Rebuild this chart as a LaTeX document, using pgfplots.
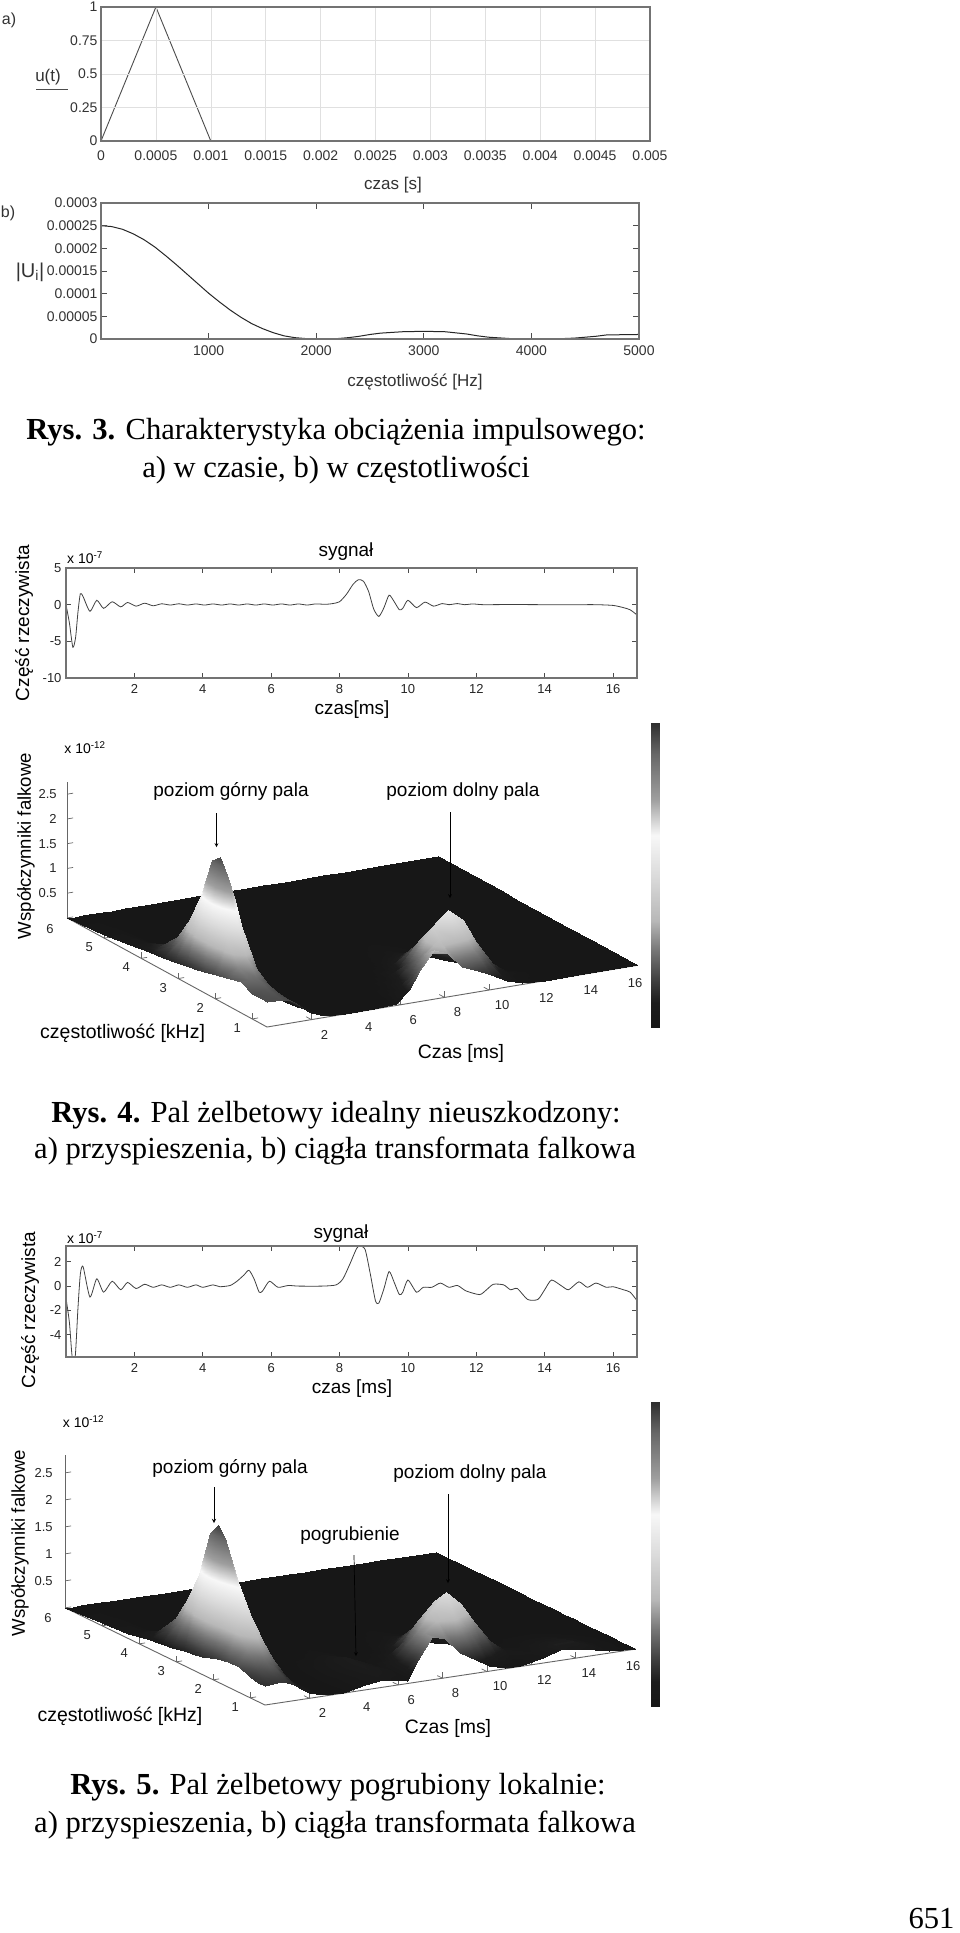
\documentclass[border=0pt]{standalone}
\usepackage{fontspec}
\setmainfont{Liberation Serif}
\newfontfamily\lsans{Liberation Sans}
\usepackage{pgfplots}
\pgfplotsset{compat=1.18}
\definecolor{boxc}{gray}{0.45}
\newcommand\fs[1]{\lsans\fontsize{#1}{#1}\selectfont}
\newcommand\capf{\fontsize{30.6}{30.6}\selectfont}
\pgfplotsset{
  colormap={jetgray}{gray(0pt)=(0.09) gray(8pt)=(0.11) gray(15pt)=(0.24) gray(25pt)=(0.46) gray(35pt)=(0.72) gray(50pt)=(0.86) gray(63pt)=(0.97) gray(75pt)=(0.62) gray(90pt)=(0.4) gray(100pt)=(0.18)},
  flat/.style={scale only axis, anchor=south west, clip=true,
    axis line style={draw=boxc,line width=1.3pt},
    tick style={draw=black!70,line width=0.8pt},
    tick label style={font=\fs{14},text=black!80},
    scaled ticks=false, tick align=inside, major tick length=6pt,
    axis on top},
  sig/.style={flat, tick label style={font=\fs{13},text=black!85}, xmin=0,xmax=16.7,
    xtick={2,4,6,8,10,12,14,16}, xticklabels={2,4,6,8,10,12,14,16},
    major tick length=5pt, xticklabel style={yshift=-3pt}, yticklabel style={xshift=-1pt}},
  surf3/.style={clip=false, anchor=origin, xmin=0,xmax=16.7,ymin=0.6,ymax=6,zmin=0,
    axis x line*=bottom, axis y line*=left, axis z line*=left,
    axis line style={draw=black!60,line width=0.9pt,-},
    tick style={draw=black!60,line width=0.7pt}, major tick length=6pt,
    tick label style={font=\fs{13},text=black!85},
    xtick={2,4,6,8,10,12,14,16}, xticklabels={2,4,6,8,10,12,14,16},
    ytick={1,2,3,4,5,6}, yticklabels={1,2,3,4,5,{}},
    ztick={0.5,1,1.5,2,2.5}, zticklabels={0.5,1,1.5,2,2.5},
    xticklabel style={anchor=center,xshift=13pt,yshift=-15pt},
    yticklabel style={anchor=center,xshift=-15pt,yshift=-9pt},
    colormap name=jetgray, point meta min=0, point meta max=2.8},
  cbar/.style={scale only axis, anchor=south west, hide axis, view={0}{90}, xmin=0,xmax=1,ymin=0,ymax=2.8,
    colormap name=jetgray, point meta min=0, point meta max=2.8, enlargelimits=false},
}
\begin{document}
\begin{tikzpicture}
\path[use as bounding box] (0pt,0pt) rectangle (960pt,-1933pt);
\fill[white] (0pt,0pt) rectangle (960pt,-1933pt);

% ---------- Rys. 3 a
\begin{axis}[flat, at={(101pt,-141pt)}, width=549pt, height=134pt,
  xmin=0,xmax=0.005,ymin=0,ymax=1,
  xtick={0,0.0005,0.001,0.0015,0.002,0.0025,0.003,0.0035,0.004,0.0045,0.005},
  xticklabels={0,0.0005,0.001,0.0015,0.002,0.0025,0.003,0.0035,0.004,0.0045,0.005},
  ytick={0,0.25,0.5,0.75,1}, yticklabels={0,0.25,0.5,0.75,1},
  major tick length=0pt, grid=major, grid style={draw=black!12,line width=0.6pt},
  xticklabel style={yshift=-6pt}]
\addplot[black!70,line width=0.9pt] coordinates {(0,0)(0.0005,1)(0.001,0)(0.005,0)};
\end{axis}
\node[font=\fs{17},text=black!80] at (393pt,-185pt) {czas [s]};
\node[font=\fs{17},text=black!80] at (48pt,-77pt) {u(t)};
\draw[black!70,line width=0.9pt] (36pt,-89pt) -- (68pt,-89pt);
\node[font=\fs{16},text=black!80] at (9pt,-20pt) {a)};

% ---------- Rys. 3 b
\begin{axis}[flat, at={(101pt,-339pt)}, width=538pt, height=136pt,
  xmin=0,xmax=5000,ymin=0,ymax=0.0003,
  xtick={1000,2000,3000,4000,5000}, xticklabels={1000,2000,3000,4000,5000},
  ytick={0,0.00005,0.0001,0.00015,0.0002,0.00025,0.0003},
  yticklabels={0,0.00005,0.0001,0.00015,0.0002,0.00025,0.0003},
  xticklabel style={yshift=-3pt}]
\addplot[black!85,line width=1pt] coordinates {(0,0.00025)(100,0.000248)(200,0.000242)(300,0.000232)(400,0.000219)(500,0.000203)(600,0.000184)(700,0.000164)(800,0.000143)(900,0.000122)(1000,0.000101)(1100,0.000082)(1200,0.000064)(1300,0.000048)(1400,0.000034)(1500,0.000023)(1600,0.000014)(1700,0.000007)(1800,0.000003)(1900,0.000001)(2000,0)(2200,0.000001)(2300,0.000003)(2400,0.000006)(2500,0.00001)(2600,0.000013)(2800,0.000016)(3000,0.000017)(3200,0.000016)(3400,0.000011)(3500,0.000007)(3600,0.000004)(3800,0.000001)(4000,0)(4200,0)(4300,0.000001)(4400,0.000002)(4500,0.000004)(4600,0.000006)(4700,0.000009)(5000,0.00001)};
\end{axis}
\node[font=\fs{17},text=black!80] at (415pt,-382pt) {częstotliwość [Hz]};
\node[font=\fs{20},text=black!80] at (30pt,-272pt) {|U\textsubscript{i}|};
\node[font=\fs{16},text=black!80] at (8pt,-213pt) {b)};

\node[font=\capf] at (336pt,-432pt) {\textbf{Rys. 3.} Charakterystyka obciążenia impulsowego:};
\node[font=\capf] at (336pt,-470pt) {a) w czasie, b) w częstotliwości};

% ---------- Rys. 4 signal
\begin{axis}[sig, at={(66pt,-678pt)}, width=571pt, height=110pt,
  ymin=-10,ymax=5, ytick={-10,-5,0,5}, yticklabels={-10,-5,0,5}]
\addplot[black!75,line width=0.8pt,smooth,tension=0.4] coordinates {(0,0)(0.1,-2.5)(0.2,-5.8)(0.28,-4.5)(0.35,-1)(0.42,1.5)(0.5,1.1)(0.7,-0.9)(0.9,0.6)(1.1,-0.5)(1.35,0.4)(1.6,-0.3)(1.8,0.3)(2.05,-0.2)(2.3,0.2)(2.55,-0.15)(2.8,0.12)(3.05,-0.05)(3.3,0.12)(3.55,-0.05)(3.8,0.1)(4.05,-0.05)(4.3,0.1)(4.55,-0.05)(4.8,0.1)(5.05,-0.05)(5.3,0.1)(5.55,-0.05)(5.8,0.1)(6.05,-0.05)(6.3,0.1)(6.55,-0.05)(6.8,0.1)(7.05,-0.05)(7.3,0.1)(7.6,0.05)(7.8,0.15)(8,0.4)(8.2,1.4)(8.4,2.8)(8.55,3.4)(8.7,3.2)(8.85,1.8)(9,-0.6)(9.15,-1.6)(9.3,-0.4)(9.45,1.3)(9.6,0.4)(9.75,-0.7)(9.85,-0.5)(10,0.6)(10.25,-0.4)(10.5,0.35)(10.75,-0.2)(11,0.15)(11.2,0)(11.45,0.15)(11.65,0)(11.9,0.1)(12.2,0)(13,0.02)(14,0)(15,0)(15.5,0)(16,-0.1)(16.3,-0.4)(16.5,-0.7)(16.7,-1.4)};
\end{axis}
\node[font=\fs{19}] at (346pt,-552pt) {sygnał};
\node[font=\fs{19}] at (352pt,-710pt) {czas[ms]};
\node[font=\fs{19},rotate=90] at (24pt,-623pt) {Część rzeczywista};
\node[font=\fs{14}] at (85pt,-558pt) {x 10\textsuperscript{-7}};

% ---------- Rys. 4 surface
\begin{axis}[surf3, at={(267pt,-1027pt)}, x={(22.2pt,3.7pt)}, y={(-37pt,20.2pt)}, z={(0pt,49.5pt)}, zmax=2.74,
  zticklabel style={anchor=east,xshift=-7pt}]
\addplot3[surf,shader=interp,z buffer=none,mesh/ordering=x varies,mesh/cols=23,point meta=z] coordinates {
(16.7,6,0)(14,6,0)(12.5,6,0)(11.5,6,0)(10.8,6,0)(10.1,6,0)(9.5,6,0)(8.8,6,0)(8.1,6,0)(7.5,6,0)(6.9,6,0)(6.4,6,0)(5.8,6,0)(4.8,6,0)(3.5,6,0)(2.6,6,0)(2,6,0)(1.6,6,0)(1.3,6,0)(1,6,0)(0.7,6,0)(0.35,6,0)(0,6,0)
(16.7,5,0)(14,5,0)(12.5,5,0)(11.5,5,0)(10.8,5,0)(10.1,5,0)(9.5,5,0)(8.8,5,0)(8.1,5,0)(7.5,5,0)(6.9,5,0)(6.4,5,0)(5.8,5,0)(4.8,5,0)(3.5,5,0)(2.6,5,0)(2,5,0)(1.6,5,0)(1.3,5,0.006)(1,5,0.034)(0.7,5,0.06)(0.35,5,0.06)(0,5,0.06)
(16.7,4.3,0)(14,4.3,0)(12.5,4.3,0)(11.5,4.3,0)(10.8,4.3,0)(10.1,4.3,0)(9.5,4.3,0)(8.8,4.3,0)(8.1,4.3,0)(7.5,4.3,0)(6.9,4.3,0)(6.4,4.3,0)(5.8,4.3,0)(4.8,4.3,0)(3.5,4.3,0)(2.6,4.3,0)(2,4.3,0)(1.6,4.3,0.003)(1.3,4.3,0.026)(1,4.3,0.096)(0.7,4.3,0.15)(0.35,4.3,0.145)(0,4.3,0.14)
(16.7,3.8,0)(14,3.8,0)(12.5,3.8,0)(11.5,3.8,0)(10.8,3.8,0)(10.1,3.8,0)(9.5,3.8,0)(8.8,3.8,0)(8.1,3.8,0)(7.5,3.8,0)(6.9,3.8,0)(6.4,3.8,0)(5.8,3.8,0)(4.8,3.8,0)(3.5,3.8,0)(2.6,3.8,0)(2,3.8,0)(1.6,3.8,0.012)(1.3,3.8,0.076)(1,3.8,0.22)(0.7,3.8,0.32)(0.35,3.8,0.27)(0,3.8,0.21)
(16.7,3.4,0)(14,3.4,0)(12.5,3.4,0)(11.5,3.4,0)(10.8,3.4,0)(10.1,3.4,0)(9.5,3.4,0)(8.8,3.4,0)(8.1,3.4,0)(7.5,3.4,0)(6.9,3.4,0)(6.4,3.4,0)(5.8,3.4,0)(4.8,3.4,0)(3.5,3.4,0)(2.6,3.4,0)(2,3.4,0)(1.6,3.4,0.03)(1.3,3.4,0.17)(1,3.4,0.47)(0.7,3.4,0.65)(0.35,3.4,0.47)(0,3.4,0.26)
(16.7,3.1,0)(14,3.1,0)(12.5,3.1,0)(11.5,3.1,0)(10.8,3.1,0)(10.1,3.1,0)(9.5,3.1,0.01)(8.8,3.1,0.02)(8.1,3.1,0.01)(7.5,3.1,0)(6.9,3.1,0)(6.4,3.1,0)(5.8,3.1,0)(4.8,3.1,0)(3.5,3.1,0)(2.6,3.1,0)(2,3.1,0.004)(1.6,3.1,0.076)(1.3,3.1,0.33)(1,3.1,0.82)(0.7,3.1,1.1)(0.35,3.1,0.74)(0,3.1,0.3)
(16.7,2.8,0)(14,2.8,0)(12.5,2.8,0)(11.5,2.8,0)(10.8,2.8,0)(10.1,2.8,0)(9.5,2.8,0.02)(8.8,2.8,0.04)(8.1,2.8,0.02)(7.5,2.8,0)(6.9,2.8,0)(6.4,2.8,0)(5.8,2.8,0)(4.8,2.8,0)(3.5,2.8,0)(2.6,2.8,0)(2,2.8,0.012)(1.6,2.8,0.155)(1.3,2.8,0.59)(1,2.8,1.32)(0.7,2.8,1.72)(0.35,2.8,1.1)(0,2.8,0.34)
(16.7,2.5,0)(14,2.5,0)(12.5,2.5,0)(11.5,2.5,0)(10.8,2.5,0)(10.1,2.5,0)(9.5,2.5,0.04)(8.8,2.5,0.09)(8.1,2.5,0.04)(7.5,2.5,0)(6.9,2.5,0)(6.4,2.5,0)(5.8,2.5,0)(4.8,2.5,0)(3.5,2.5,0)(2.6,2.5,0)(2,2.5,0.02)(1.6,2.5,0.25)(1.3,2.5,0.9)(1,2.5,1.98)(0.7,2.5,2.55)(0.35,2.5,1.58)(0,2.5,0.38)
(16.7,2.3,0)(14,2.3,0)(12.5,2.3,0)(11.5,2.3,0)(10.8,2.3,0)(10.1,2.3,0.01)(9.5,2.3,0.08)(8.8,2.3,0.15)(8.1,2.3,0.08)(7.5,2.3,0.01)(6.9,2.3,0)(6.4,2.3,0)(5.8,2.3,0)(4.8,2.3,0)(3.5,2.3,0)(2.6,2.3,0)(2,2.3,0.03)(1.6,2.3,0.32)(1.3,2.3,1.04)(1,2.3,2.09)(0.7,2.3,2.68)(0.35,2.3,1.65)(0,2.3,0.42)
(16.7,2.1,0)(14,2.1,0)(12.5,2.1,0)(11.5,2.1,0)(10.8,2.1,0)(10.1,2.1,0.03)(9.5,2.1,0.14)(8.8,2.1,0.25)(8.1,2.1,0.14)(7.5,2.1,0.03)(6.9,2.1,0)(6.4,2.1,0)(5.8,2.1,0)(4.8,2.1,0)(3.5,2.1,0)(2.6,2.1,0)(2,2.1,0.04)(1.6,2.1,0.33)(1.3,2.1,1)(1,2.1,1.94)(0.7,2.1,2.4)(0.35,2.1,1.5)(0,2.1,0.45)
(16.7,1.9,0)(14,1.9,0)(12.5,1.9,0)(11.5,1.9,0)(10.8,1.9,0.01)(10.1,1.9,0.07)(9.5,1.9,0.25)(8.8,1.9,0.4)(8.1,1.9,0.25)(7.5,1.9,0.07)(6.9,1.9,0.01)(6.4,1.9,0)(5.8,1.9,0)(4.8,1.9,0)(3.5,1.9,0)(2.6,1.9,0)(2,1.9,0.05)(1.6,1.9,0.31)(1.3,1.9,0.82)(1,1.9,1.46)(0.7,1.9,1.78)(0.35,1.9,1.2)(0,1.9,0.5)
(16.7,1.6,0)(14,1.6,0)(12.5,1.6,0)(11.5,1.6,0.003)(10.8,1.6,0.035)(10.1,1.6,0.2)(9.5,1.6,0.52)(8.8,1.6,0.75)(8.1,1.6,0.52)(7.5,1.6,0.2)(6.9,1.6,0.04)(6.4,1.6,0.01)(5.8,1.6,0)(4.8,1.6,0)(3.5,1.6,0)(2.6,1.6,0.003)(2,1.6,0.06)(1.6,1.6,0.25)(1.3,1.6,0.53)(1,1.6,0.82)(0.7,1.6,0.95)(0.35,1.6,0.78)(0,1.6,0.56)
(16.7,1.3,0)(14,1.3,0)(12.5,1.3,0)(11.5,1.3,0.03)(10.8,1.3,0.15)(10.1,1.3,0.5)(9.5,1.3,0.9)(8.8,1.3,1.15)(8.1,1.3,0.9)(7.5,1.3,0.45)(6.9,1.3,0.13)(6.4,1.3,0.03)(5.8,1.3,0)(4.8,1.3,0)(3.5,1.3,0)(2.6,1.3,0.008)(2,1.3,0.08)(1.6,1.3,0.24)(1.3,1.3,0.42)(1,1.3,0.58)(0.7,1.3,0.65)(0.35,1.3,0.64)(0,1.3,0.62)
(16.7,1,0)(14,1,0)(12.5,1,0.007)(11.5,1,0.09)(10.8,1,0.33)(10.1,1,0.8)(9.5,1,1.28)(8.8,1,1.55)(8.1,1,1.23)(7.5,1,0.69)(6.9,1,0.28)(6.4,1,0.1)(5.8,1,0.02)(4.8,1,0)(3.5,1,0)(2.6,1,0.015)(2,1,0.1)(1.6,1,0.245)(1.3,1,0.38)(1,1,0.5)(0.7,1,0.55)(0.35,1,0.53)(0,1,0.5)
(16.7,0.8,0)(14,0.8,0)(12.5,0.8,0.003)(11.5,0.8,0.05)(10.8,0.8,0.22)(10.1,0.8,0.55)(9.5,0.8,0.85)(8.8,0.8,1.05)(8.1,0.8,1.1)(7.5,0.8,0.85)(6.9,0.8,0.45)(6.4,0.8,0.18)(5.8,0.8,0.025)(4.8,0.8,0)(3.5,0.8,0.001)(2.6,0.8,0.026)(2,0.8,0.13)(1.6,0.8,0.27)(1.3,0.8,0.39)(1,0.8,0.48)(0.7,0.8,0.52)(0.35,0.8,0.51)(0,0.8,0.5)
(16.7,0.6,0)(14,0.6,0)(12.5,0.6,0)(11.5,0.6,0.02)(10.8,0.6,0.12)(10.1,0.6,0.3)(9.5,0.6,0.42)(8.8,0.6,0.55)(8.1,0.6,0.89)(7.5,0.6,1)(6.9,0.6,0.64)(6.4,0.6,0.26)(5.8,0.6,0.03)(4.8,0.6,0)(3.5,0.6,0.002)(2.6,0.6,0.033)(2,0.6,0.14)(1.6,0.6,0.27)(1.3,0.6,0.38)(1,0.6,0.47)(0.7,0.6,0.5)(0.35,0.6,0.5)(0,0.6,0.5)
};
\end{axis}
\begin{axis}[cbar, at={(651pt,-1027pt)}, width=8pt, height=304pt]
\addplot3[surf,shader=interp,mesh/cols=2,point meta=y] coordinates {(0,0,0)(1,0,0)(0,0.7,0)(1,0.7,0)(0,1.4,0)(1,1.4,0)(0,2.1,0)(1,2.1,0)(0,2.8,0)(1,2.8,0)};
\end{axis}
\node[font=\fs{13},text=black!85] at (50pt,-929pt) {6};
\node[font=\fs{19}] at (231pt,-791pt) {poziom górny pala};
\node[font=\fs{19}] at (463pt,-792pt) {poziom dolny pala};
\draw[-stealth,black,line width=0.7pt] (216.5pt,-813pt) -- (216.5pt,-847pt);
\draw[-stealth,black,line width=0.7pt] (450pt,-812pt) -- (450pt,-898pt);
\node[font=\fs{14}] at (85pt,-748pt) {x 10\textsuperscript{-12}};
\node[font=\fs{18.6},rotate=90] at (26pt,-846pt) {Współczynniki falkowe};
\node[font=\fs{19.5}] at (122.6pt,-1033pt) {częstotliwość [kHz]};
\node[font=\fs{19.4}] at (461pt,-1053pt) {Czas [ms]};

\node[font=\capf] at (336pt,-1115pt) {\textbf{Rys. 4.} Pal żelbetowy idealny nieuszkodzony:};
\node[font=\capf] at (335pt,-1151pt) {a) przyspieszenia, b) ciągła transformata falkowa};

% ---------- Rys. 5 signal
\begin{axis}[sig, at={(66pt,-1357pt)}, width=571pt, height=111pt,
  ymin=-5.84,ymax=3.3, ytick={-4,-2,0,2}, yticklabels={-4,-2,0,2}]
\addplot[black!75,line width=0.8pt,smooth,tension=0.4] coordinates {(0,-1)(0.1,-3)(0.18,-5.8)(0.27,-5.8)(0.35,-1.8)(0.42,1)(0.5,1.6)(0.7,-0.9)(0.9,0.6)(1.1,-0.5)(1.35,0.4)(1.6,-0.3)(1.8,0.3)(2.05,-0.2)(2.3,0.15)(2.55,-0.1)(2.8,0.1)(3.05,-0.1)(3.3,0.1)(3.55,-0.1)(3.8,0.1)(4,-0.1)(4.3,0.1)(4.5,-0.05)(4.8,0.05)(5,0.4)(5.2,0.9)(5.35,1.3)(5.5,0.6)(5.65,-0.5)(5.75,-0.4)(5.95,0.4)(6.2,-0.1)(6.5,0.05)(6.8,0)(7.5,0)(7.9,0.1)(8.1,0.6)(8.3,1.8)(8.5,3.1)(8.6,3.3)(8.75,3)(8.9,1)(9.05,-1.2)(9.15,-1.4)(9.3,-0.2)(9.45,1.2)(9.6,0.3)(9.75,-0.7)(9.85,-0.5)(10,0.5)(10.25,-0.5)(10.45,-0.1)(10.7,-0.1)(10.95,0.25)(11.2,-0.1)(11.45,0.05)(11.7,-0.4)(12.1,-0.7)(12.3,-0.3)(12.5,0.15)(12.8,0.1)(13,-0.3)(13.2,-0.2)(13.5,-1.1)(13.8,-1.1)(14,-0.3)(14.2,0.5)(14.5,0)(14.7,-0.3)(15,0.35)(15.25,-0.1)(15.5,0.25)(15.8,-0.1)(16,-0.05)(16.3,-0.3)(16.5,-0.5)(16.7,-1.2)};
\end{axis}
\node[font=\fs{19}] at (341pt,-1234pt) {sygnał};
\node[font=\fs{19}] at (352pt,-1389pt) {czas [ms]};
\node[font=\fs{19},rotate=90] at (30pt,-1310pt) {Część rzeczywista};
\node[font=\fs{14}] at (85pt,-1238pt) {x 10\textsuperscript{-7}};

% ---------- Rys. 5 surface
\begin{axis}[surf3, at={(265pt,-1705pt)}, x={(22.2pt,3.35pt)}, y={(-37pt,18pt)}, z={(0pt,54pt)}, zmax=2.83,
  zticklabel style={anchor=east,xshift=-9pt}]
\addplot3[surf,shader=interp,z buffer=none,mesh/ordering=x varies,mesh/cols=25,point meta=z] coordinates {
(16.7,6,0)(15.5,6,0)(14.2,6,0)(13.4,6,0)(12.5,6,0)(11.5,6,0)(10.8,6,0)(10.1,6,0)(9.5,6,0)(8.8,6,0)(8.1,6,0)(7.5,6,0)(6.9,6,0)(6.4,6,0)(5.3,6,0)(4.5,6,0)(3.5,6,0)(2.6,6,0)(2,6,0)(1.6,6,0)(1.3,6,0)(1,6,0)(0.7,6,0)(0.35,6,0)(0,6,0)
(16.7,5,0)(15.5,5,0)(14.2,5,0)(13.4,5,0)(12.5,5,0)(11.5,5,0)(10.8,5,0)(10.1,5,0)(9.5,5,0)(8.8,5,0)(8.1,5,0)(7.5,5,0)(6.9,5,0)(6.4,5,0)(5.3,5,0)(4.5,5,0)(3.5,5,0)(2.6,5,0)(2,5,0)(1.6,5,0)(1.3,5,0.005)(1,5,0.03)(0.7,5,0.05)(0.35,5,0.05)(0,5,0.05)
(16.7,4.3,0)(15.5,4.3,0)(14.2,4.3,0)(13.4,4.3,0)(12.5,4.3,0)(11.5,4.3,0)(10.8,4.3,0)(10.1,4.3,0)(9.5,4.3,0)(8.8,4.3,0)(8.1,4.3,0)(7.5,4.3,0)(6.9,4.3,0)(6.4,4.3,0)(5.3,4.3,0)(4.5,4.3,0)(3.5,4.3,0)(2.6,4.3,0)(2,4.3,0)(1.6,4.3,0.002)(1.3,4.3,0.015)(1,4.3,0.06)(0.7,4.3,0.09)(0.35,4.3,0.09)(0,4.3,0.09)
(16.7,3.8,0)(15.5,3.8,0)(14.2,3.8,0)(13.4,3.8,0)(12.5,3.8,0)(11.5,3.8,0)(10.8,3.8,0)(10.1,3.8,0)(9.5,3.8,0)(8.8,3.8,0)(8.1,3.8,0)(7.5,3.8,0)(6.9,3.8,0)(6.4,3.8,0)(5.3,3.8,0)(4.5,3.8,0)(3.5,3.8,0)(2.6,3.8,0)(2,3.8,0)(1.6,3.8,0.01)(1.3,3.8,0.066)(1,3.8,0.2)(0.7,3.8,0.28)(0.35,3.8,0.23)(0,3.8,0.16)
(16.7,3.4,0)(15.5,3.4,0)(14.2,3.4,0)(13.4,3.4,0)(12.5,3.4,0)(11.5,3.4,0)(10.8,3.4,0)(10.1,3.4,0)(9.5,3.4,0)(8.8,3.4,0)(8.1,3.4,0)(7.5,3.4,0)(6.9,3.4,0)(6.4,3.4,0)(5.3,3.4,0)(4.5,3.4,0)(3.5,3.4,0)(2.6,3.4,0)(2,3.4,0)(1.6,3.4,0.03)(1.3,3.4,0.17)(1,3.4,0.47)(0.7,3.4,0.66)(0.35,3.4,0.45)(0,3.4,0.2)
(16.7,3.1,0)(15.5,3.1,0)(14.2,3.1,0)(13.4,3.1,0)(12.5,3.1,0)(11.5,3.1,0)(10.8,3.1,0)(10.1,3.1,0)(9.5,3.1,0.01)(8.8,3.1,0.02)(8.1,3.1,0.01)(7.5,3.1,0)(6.9,3.1,0)(6.4,3.1,0)(5.3,3.1,0)(4.5,3.1,0)(3.5,3.1,0)(2.6,3.1,0)(2,3.1,0.004)(1.6,3.1,0.076)(1.3,3.1,0.33)(1,3.1,0.82)(0.7,3.1,1.1)(0.35,3.1,0.71)(0,3.1,0.23)
(16.7,2.8,0)(15.5,2.8,0)(14.2,2.8,0)(13.4,2.8,0)(12.5,2.8,0)(11.5,2.8,0)(10.8,2.8,0)(10.1,2.8,0)(9.5,2.8,0.02)(8.8,2.8,0.04)(8.1,2.8,0.02)(7.5,2.8,0)(6.9,2.8,0)(6.4,2.8,0)(5.3,2.8,0.01)(4.5,2.8,0)(3.5,2.8,0)(2.6,2.8,0)(2,2.8,0.012)(1.6,2.8,0.15)(1.3,2.8,0.57)(1,2.8,1.26)(0.7,2.8,1.65)(0.35,2.8,1.02)(0,2.8,0.26)
(16.7,2.5,0)(15.5,2.5,0)(14.2,2.5,0)(13.4,2.5,0)(12.5,2.5,0)(11.5,2.5,0)(10.8,2.5,0)(10.1,2.5,0)(9.5,2.5,0.04)(8.8,2.5,0.09)(8.1,2.5,0.04)(7.5,2.5,0)(6.9,2.5,0)(6.4,2.5,0)(5.3,2.5,0.03)(4.5,2.5,0.01)(3.5,2.5,0)(2.6,2.5,0)(2,2.5,0.02)(1.6,2.5,0.24)(1.3,2.5,0.9)(1,2.5,1.94)(0.7,2.5,2.5)(0.35,2.5,1.5)(0,2.5,0.3)
(16.7,2.3,0)(15.5,2.3,0)(14.2,2.3,0)(13.4,2.3,0)(12.5,2.3,0)(11.5,2.3,0)(10.8,2.3,0)(10.1,2.3,0.01)(9.5,2.3,0.08)(8.8,2.3,0.16)(8.1,2.3,0.08)(7.5,2.3,0.01)(6.9,2.3,0)(6.4,2.3,0)(5.3,2.3,0.05)(4.5,2.3,0.02)(3.5,2.3,0)(2.6,2.3,0)(2,2.3,0.03)(1.6,2.3,0.33)(1.3,2.3,1.07)(1,2.3,2.15)(0.7,2.3,2.72)(0.35,2.3,1.64)(0,2.3,0.33)
(16.7,2.1,0)(15.5,2.1,0)(14.2,2.1,0)(13.4,2.1,0)(12.5,2.1,0)(11.5,2.1,0)(10.8,2.1,0)(10.1,2.1,0.03)(9.5,2.1,0.15)(8.8,2.1,0.27)(8.1,2.1,0.15)(7.5,2.1,0.03)(6.9,2.1,0)(6.4,2.1,0)(5.3,2.1,0.1)(4.5,2.1,0.05)(3.5,2.1,0)(2.6,2.1,0)(2,2.1,0.044)(1.6,2.1,0.36)(1.3,2.1,1.09)(1,2.1,2.06)(0.7,2.1,2.55)(0.35,2.1,1.57)(0,2.1,0.37)
(16.7,1.9,0)(15.5,1.9,0)(14.2,1.9,0.02)(13.4,1.9,0.02)(12.5,1.9,0.01)(11.5,1.9,0)(10.8,1.9,0.02)(10.1,1.9,0.09)(9.5,1.9,0.28)(8.8,1.9,0.42)(8.1,1.9,0.27)(7.5,1.9,0.08)(6.9,1.9,0.02)(6.4,1.9,0.01)(5.3,1.9,0.15)(4.5,1.9,0.08)(3.5,1.9,0.01)(2.6,1.9,0)(2,1.9,0.055)(1.6,1.9,0.365)(1.3,1.9,0.96)(1,1.9,1.73)(0.7,1.9,2.1)(0.35,1.9,1.34)(0,1.9,0.41)
(16.7,1.6,0)(15.5,1.6,0.02)(14.2,1.6,0.06)(13.4,1.6,0.06)(12.5,1.6,0.03)(11.5,1.6,0.03)(10.8,1.6,0.08)(10.1,1.6,0.24)(9.5,1.6,0.54)(8.8,1.6,0.72)(8.1,1.6,0.5)(7.5,1.6,0.2)(6.9,1.6,0.06)(6.4,1.6,0.03)(5.3,1.6,0.22)(4.5,1.6,0.12)(3.5,1.6,0.02)(2.6,1.6,0.005)(2,1.6,0.09)(1.6,1.6,0.4)(1.3,1.6,0.83)(1,1.6,1.29)(0.7,1.6,1.5)(0.35,1.6,1.04)(0,1.6,0.47)
(16.7,1.3,0)(15.5,1.3,0.04)(14.2,1.3,0.12)(13.4,1.3,0.12)(12.5,1.3,0.06)(11.5,1.3,0.1)(10.8,1.3,0.26)(10.1,1.3,0.6)(9.5,1.3,0.92)(8.8,1.3,1.15)(8.1,1.3,0.85)(7.5,1.3,0.5)(6.9,1.3,0.18)(6.4,1.3,0.07)(5.3,1.3,0.22)(4.5,1.3,0.12)(3.5,1.3,0.02)(2.6,1.3,0.013)(2,1.3,0.13)(1.6,1.3,0.39)(1.3,1.3,0.67)(1,1.3,0.94)(0.7,1.3,1.05)(0.35,1.3,0.79)(0,1.3,0.48)
(16.7,1,0)(15.5,1,0.06)(14.2,1,0.2)(13.4,1,0.2)(12.5,1,0.1)(11.5,1,0.15)(10.8,1,0.38)(10.1,1,0.78)(9.5,1,1.15)(8.8,1,1.42)(8.1,1,1.09)(7.5,1,0.75)(6.9,1,0.28)(6.4,1,0.11)(5.3,1,0.2)(4.5,1,0.1)(3.5,1,0.02)(2.6,1,0.017)(2,1,0.115)(1.6,1,0.28)(1.3,1,0.43)(1,1,0.57)(0.7,1,0.62)(0.35,1,0.51)(0,1,0.38)
(16.7,0.8,0)(15.5,0.8,0.05)(14.2,0.8,0.24)(13.4,0.8,0.24)(12.5,0.8,0.12)(11.5,0.8,0.05)(10.8,0.8,0.18)(10.1,0.8,0.4)(9.5,0.8,0.72)(8.8,0.8,1.1)(8.1,0.8,1)(7.5,0.8,0.8)(6.9,0.8,0.3)(6.4,0.8,0.1)(5.3,0.8,0.17)(4.5,0.8,0.1)(3.5,0.8,0.01)(2.6,0.8,0.024)(2,0.8,0.12)(1.6,0.8,0.25)(1.3,0.8,0.36)(1,0.8,0.45)(0.7,0.8,0.48)(0.35,0.8,0.42)(0,0.8,0.35)
(16.7,0.6,0)(15.5,0.6,0.03)(14.2,0.6,0.16)(13.4,0.6,0.21)(12.5,0.6,0.1)(11.5,0.6,0)(10.8,0.6,0.02)(10.1,0.6,0.1)(9.5,0.6,0.25)(8.8,0.6,0.42)(8.1,0.6,0.72)(7.5,0.6,0.8)(6.9,0.6,0.4)(6.4,0.6,0.05)(5.3,0.6,0.14)(4.5,0.6,0.1)(3.5,0.6,0.001)(2.6,0.6,0.025)(2,0.6,0.106)(1.6,0.6,0.206)(1.3,0.6,0.29)(1,0.6,0.355)(0.7,0.6,0.38)(0.35,0.6,0.37)(0,0.6,0.35)
};
\end{axis}
\begin{axis}[cbar, at={(651pt,-1706pt)}, width=9pt, height=304pt]
\addplot3[surf,shader=interp,mesh/cols=2,point meta=y] coordinates {(0,0,0)(1,0,0)(0,0.7,0)(1,0.7,0)(0,1.4,0)(1,1.4,0)(0,2.1,0)(1,2.1,0)(0,2.8,0)(1,2.8,0)};
\end{axis}
\node[font=\fs{13},text=black!85] at (48pt,-1618pt) {6};
\node[font=\fs{19}] at (230pt,-1468pt) {poziom górny pala};
\node[font=\fs{19}] at (470pt,-1474pt) {poziom dolny pala};
\node[font=\fs{19}] at (350pt,-1536pt) {pogrubienie};
\draw[-stealth,black,line width=0.9pt] (214pt,-1487pt) -- (214pt,-1523pt);
\draw[-stealth,black,line width=0.7pt] (448pt,-1494pt) -- (448pt,-1583pt);
\draw[-stealth,black,line width=0.7pt] (354pt,-1555pt) -- (356pt,-1656pt);
\node[font=\fs{14}] at (83.5pt,-1422pt) {x 10\textsuperscript{-12}};
\node[font=\fs{18.6},rotate=90] at (20pt,-1543pt) {Współczynniki falkowe};
\node[font=\fs{19.5}] at (120pt,-1716pt) {częstotliwość [kHz]};
\node[font=\fs{19.4}] at (448pt,-1728pt) {Czas [ms]};

\node[font=\capf] at (338pt,-1787pt) {\textbf{Rys. 5.} Pal żelbetowy pogrubiony lokalnie:};
\node[font=\capf] at (335pt,-1825pt) {a) przyspieszenia, b) ciągła transformata falkowa};
\node[font=\capf,anchor=east] at (958pt,-1918pt) {651};
\end{tikzpicture}
\end{document}
